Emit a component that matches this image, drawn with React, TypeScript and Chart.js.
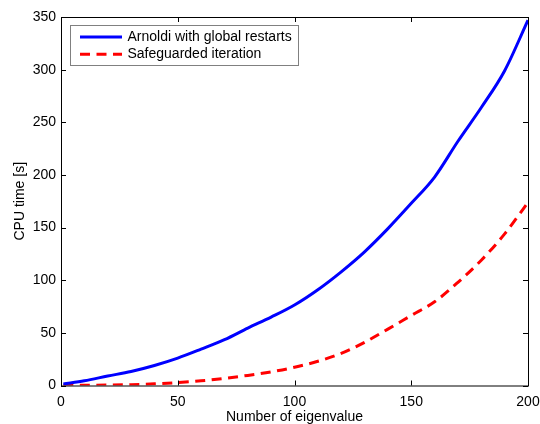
import { useEffect, useRef } from "react";
import { Chart, registerables } from "chart.js";

Chart.register(...registerables);

// ---- data ----
const eigenCount = [1, 10, 20, 30, 40, 50, 60, 70, 80, 90, 100, 110, 120, 130, 140, 150, 160, 170, 180, 190, 200];
const arnoldiTime = [1.5, 4.5, 9, 13.3, 19, 26, 34.5, 43.5, 54.5, 65, 76.5, 91, 108, 127, 149, 173, 198, 232, 264, 299, 347];
const safeguardedTime = [0.1, 0.2, 0.4, 0.8, 1.6, 2.8, 4.4, 6.8, 9.6, 13, 17.3, 23, 30.5, 41, 53.5, 66.5, 79.5, 98, 119, 144, 174];
const seriesLabels = ["Arnoldi with global restarts", "Safeguarded iteration"];
const xTickValues = [0, 50, 100, 150, 200];
const yTickValues = [0, 50, 100, 150, 200, 250, 300, 350];
const xTitle = "Number of eigenvalue";
const yTitle = "CPU time [s]";

const FONT = "'Liberation Sans', Arial, Helvetica, sans-serif";

const framePlugin = {
  id: "frameTicks",
  afterDatasetsDraw(chart: any) {
    const { ctx, chartArea, scales } = chart;
    const { left, right, top, bottom } = chartArea;
    const xs = scales.x;
    const ys = scales.y;
    ctx.save();
    ctx.setLineDash([]);
    ctx.strokeStyle = "#000";
    ctx.lineWidth = 1;
    ctx.beginPath();
    const L = 5;
    xs.ticks.forEach((t: any) => {
      const px = Math.round(xs.getPixelForValue(t.value)) + 0.5;
      ctx.moveTo(px, bottom);
      ctx.lineTo(px, bottom - L);
      ctx.moveTo(px, top);
      ctx.lineTo(px, top + L);
    });
    ys.ticks.forEach((t: any) => {
      const py = Math.round(ys.getPixelForValue(t.value)) + 0.5;
      ctx.moveTo(left, py);
      ctx.lineTo(left + L, py);
      ctx.moveTo(right, py);
      ctx.lineTo(right - L, py);
    });
    ctx.stroke();
    ctx.strokeRect(left + 0.5, top + 0.5, right - left, bottom - top);
    ctx.restore();
  },
};

const legendPlugin = {
  id: "legendBox",
  afterDraw(chart: any) {
    const { ctx, chartArea } = chart;
    const x0 = chartArea.left + 9.5;
    const y0 = chartArea.top + 8.5;
    const w = 228;
    const h = 40;
    ctx.save();
    ctx.fillStyle = "#fff";
    ctx.fillRect(x0, y0, w, h);
    ctx.setLineDash([]);
    ctx.strokeStyle = "#808080";
    ctx.lineWidth = 1;
    ctx.strokeRect(x0, y0, w, h);
    ctx.font = `14px ${FONT}`;
    ctx.textBaseline = "middle";
    ctx.textAlign = "left";
    chart.data.datasets.forEach((ds: any, i: number) => {
      const cy = y0 + 11.5 + i * 17.3;
      ctx.strokeStyle = ds.borderColor;
      ctx.lineWidth = ds.borderWidth;
      ctx.setLineDash(ds.borderDash || []);
      ctx.beginPath();
      ctx.moveTo(x0 + 9.5, cy);
      ctx.lineTo(x0 + 51.5, cy);
      ctx.stroke();
      ctx.setLineDash([]);
      ctx.fillStyle = "#000";
      ctx.fillText(ds.label, x0 + 57, cy);
    });
    ctx.restore();
  },
};

export default function App() {
  const canvasRef = useRef<HTMLCanvasElement | null>(null);

  useEffect(() => {
    const canvas = canvasRef.current;
    if (!canvas) return;
    const chart = new Chart(canvas, {
      type: "line",
      data: {
        datasets: [
          {
            label: seriesLabels[0],
            data: eigenCount.map((n, i) => ({ x: n, y: arnoldiTime[i] })),
            borderColor: "#0000ff",
            borderWidth: 3,
            pointRadius: 0,
            cubicInterpolationMode: "monotone",
            fill: false,
          },
          {
            label: seriesLabels[1],
            data: eigenCount.map((n, i) => ({ x: n, y: safeguardedTime[i] })),
            borderColor: "#ff0000",
            borderWidth: 3,
            borderDash: [10, 6.5],
            pointRadius: 0,
            cubicInterpolationMode: "monotone",
            fill: false,
          },
        ],
      },
      options: {
        animation: false,
        responsive: false,
        devicePixelRatio: 1,
        layout: { padding: { left: 0, top: 17, right: 12, bottom: 0 } },
        plugins: {
          legend: { display: false },
          tooltip: { enabled: false },
        },
        scales: {
          x: {
            type: "linear",
            min: 0,
            max: 200,
            afterBuildTicks: (scale: any) => {
              scale.ticks = xTickValues.map((v) => ({ value: v }));
            },
            afterFit: (scale: any) => {
              scale.height = 38.5;
              scale.paddingLeft = 0;
              scale.paddingRight = 0;
            },
            grid: { display: false, drawTicks: false },
            border: { display: false },
            ticks: {
              padding: 8,
              color: "#000",
              font: { family: FONT, size: 14 },
              maxRotation: 0,
            },
            title: {
              display: true,
              text: xTitle,
              color: "#000",
              font: { family: FONT, size: 14 },
              padding: { top: 0, bottom: -2 },
            },
          },
          y: {
            type: "linear",
            min: 0,
            max: 350,
            afterBuildTicks: (scale: any) => {
              scale.ticks = yTickValues.map((v) => ({ value: v }));
            },
            afterFit: (scale: any) => {
              scale.width = 61;
              scale.paddingTop = 0;
              scale.paddingBottom = 0;
            },
            grid: { display: false, drawTicks: false },
            border: { display: false },
            ticks: {
              padding: 5,
              color: "#000",
              font: { family: FONT, size: 14 },
            },
            title: {
              display: true,
              text: yTitle,
              color: "#000",
              font: { family: FONT, size: 14 },
              padding: { top: 12, bottom: 0 },
            },
          },
        },
      },
      plugins: [framePlugin, legendPlugin],
    } as any);
    return () => chart.destroy();
  }, []);

  return (
    <div style={{ position: "absolute", left: 0, top: 0, width: 540, height: 424, background: "#fff" }}>
      <canvas ref={canvasRef} width={540} height={424} style={{ display: "block" }} />
    </div>
  );
}
